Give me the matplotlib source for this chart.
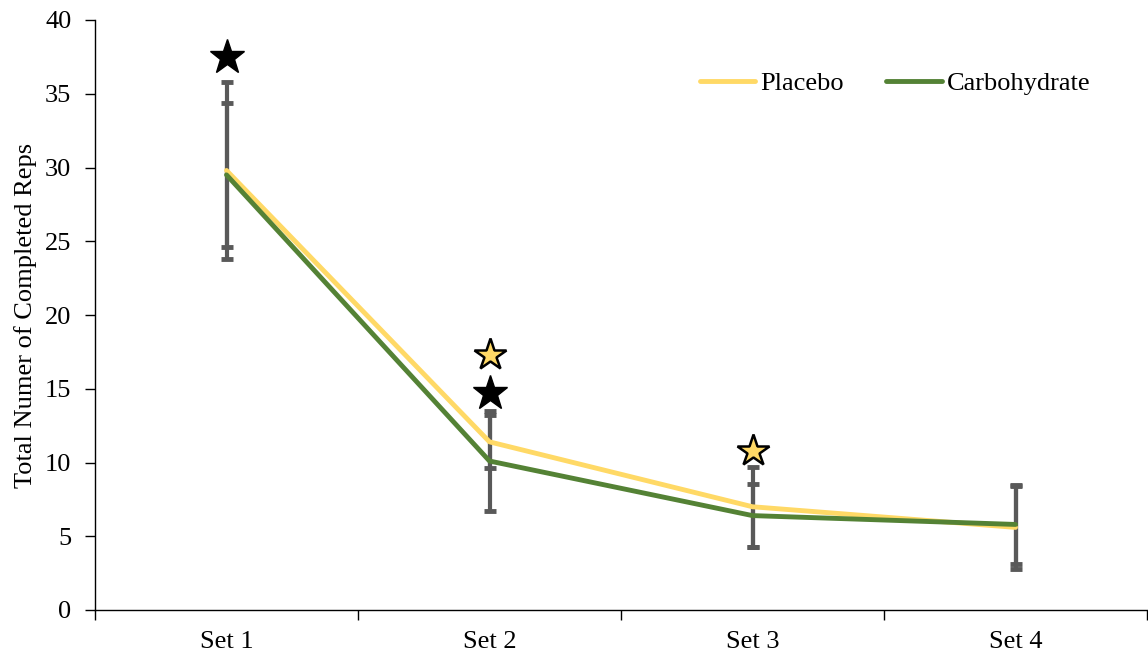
import matplotlib
matplotlib.use("Agg")
import matplotlib.pyplot as plt
import numpy as np

categories = ["Set 1", "Set 2", "Set 3", "Set 4"]
placebo = [29.8, 11.4, 7.0, 5.6]
placebo_err = [6.0, 1.8, 2.7, 2.8]
carbo = [29.5, 10.1, 6.4, 5.8]
carbo_err = [4.9, 3.4, 2.15, 2.7]
# significance stars: (category index, y)
stars_black = [(0, 37.5), (1, 14.7)]
stars_yellow = [(1, 17.3), (2, 10.8)]

plt.rcParams['font.family'] = ['Liberation Serif', 'DejaVu Serif']

fig = plt.figure(figsize=(11.48, 6.56), dpi=100)
ax = fig.add_axes([95/1148, 46/656, 1052/1148, 590/656])

x = np.arange(len(categories))
ycol = "#FFD966"
gcol = "#548235"
ecol = "#595959"

ax.errorbar(x, placebo, yerr=placebo_err, fmt='none', ecolor=ecol, elinewidth=3,
            capsize=4.3, capthick=3.5, zorder=2)
ax.errorbar(x, carbo, yerr=carbo_err, fmt='none', ecolor=ecol, elinewidth=3,
            capsize=4.3, capthick=3.5, zorder=2)
ax.plot(x, placebo, color=ycol, lw=3.5, label="Placebo", zorder=3, solid_capstyle='round')
ax.plot(x, carbo, color=gcol, lw=3.5, label="Carbohydrate", zorder=3, solid_capstyle='round')

for i, yv in stars_black:
    ax.plot(i, yv, marker='*', ms=26, color='black', mec='black', zorder=4)
for i, yv in stars_yellow:
    ax.plot(i, yv, marker='*', ms=24, color=ycol, mec='black', mew=1.8, zorder=4)

ax.set_xlim(-0.5, 3.5)
ax.set_ylim(0, 40)
ax.set_yticks(np.arange(0, 41, 5))
ax.set_xticks(x)
ax.set_xticklabels(categories)
ax.set_xticks(np.arange(-0.5, 3.6, 1.0), minor=True)
ax.tick_params(axis='x', which='major', length=0, pad=15, labelsize=19)
ax.tick_params(axis='x', which='minor', length=7, width=1, direction='out')
ax.tick_params(axis='y', which='major', length=7, width=1, direction='out', labelsize=19, pad=10)
for s in ['top', 'right']:
    ax.spines[s].set_visible(False)
for s in ['left', 'bottom']:
    ax.spines[s].set_linewidth(1)
    ax.spines[s].set_color('black')

ax.set_ylabel("Total Numer of Completed Reps", fontsize=19, labelpad=6)

ax.legend(loc='center left', bbox_to_anchor=(0.575, 0.893), ncol=2, frameon=False,
          fontsize=19, handlelength=2.1, handletextpad=0.2, columnspacing=1.6,
          borderpad=0, borderaxespad=0)

fig.savefig("out.png", dpi=100)
